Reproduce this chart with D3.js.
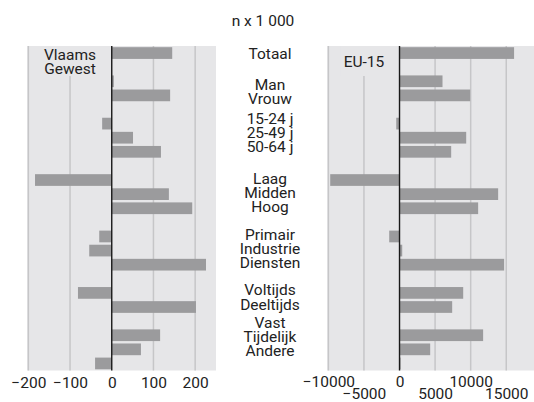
<!DOCTYPE html>
<html>
<head>
<meta charset="utf-8">
<script src="https://cdn.jsdelivr.net/npm/d3@7"></script>
<style>
  html, body { margin: 0; padding: 0; background: #fff; }
  svg { display: block; }
  text { font-family: Roboto, "Noto Sans", sans-serif; fill: #222; }
</style>
</head>
<body>
<svg id="chart" width="534" height="402"></svg>
<script>
// ---- data ----
const title = "n x 1 000";
const groups = [
  ["Totaal"],
  ["Man", "Vrouw"],
  ["15-24 j", "25-49 j", "50-64 j"],
  ["Laag", "Midden", "Hoog"],
  ["Primair", "Industrie", "Diensten"],
  ["Voltijds", "Deeltijds"],
  ["Vast", "Tijdelijk", "Andere"]
];
const categories = groups.flat();
const vlaamsValues = [145, 5, 140, -23, 51, 118, -184, 137, 193, -30, -54, 226, -81, 202, 116, 70, -40];
const euValues = [16100, 6040, 9930, -460, 9370, 7260, -9740, 13860, 11050, -1450, 380, 14700, 8950, 7400, 11750, 4310, 150];
const vlaamsTicks = [-200, -100, 0, 100, 200];
const euTicks = [-10000, -5000, 0, 5000, 10000, 15000];
const panelTitles = [["Vlaams", "Gewest"], ["EU-15"]];

// ---- layout ----
const svg = d3.select("#chart");
const plotTop = 46, plotBottom = 370.5;

// slot domain: categories with a spacer between groups
const slots = [];
groups.forEach((g, gi) => {
  if (gi > 0) slots.push("__gap" + gi);
  g.forEach(c => slots.push(c));
});
const y = d3.scaleBand().domain(slots).range([plotTop, plotBottom]).paddingInner(0.17).paddingOuter(0.085);

const panels = [
  { values: vlaamsValues, ticks: vlaamsTicks, x: d3.scaleLinear().domain([-202.5, 250]).range([27.3, 216]),
    title: panelTitles[0], titleAt: -100, stagger: false },
  { values: euValues, ticks: euTicks, x: d3.scaleLinear().domain([-10150, 18900]).range([327.3, 534]),
    title: panelTitles[1], titleAt: -5000, stagger: true }
];

const bg = "#e6e6e8", grid = "#c6c6c8", barColor = "#9b9b9d";

panels.forEach(p => {
  const g = svg.append("g");
  const [x0, x1] = p.x.range();
  g.append("rect").attr("x", x0).attr("y", plotTop).attr("width", x1 - x0).attr("height", plotBottom - plotTop).attr("fill", bg);
  // gridlines
  g.selectAll("line.grid").data(p.ticks.filter(t => t !== 0)).join("line")
    .attr("class", "grid")
    .attr("x1", d => p.x(d)).attr("x2", d => p.x(d))
    .attr("y1", plotTop).attr("y2", plotBottom)
    .attr("stroke", grid).attr("stroke-width", 1.5);
  // panel title with background box
  const tg = g.append("g");
  const tx = p.x(p.titleAt);
  const lh = 14;
  const nLines = p.title.length;
  const cy = 61;
  const tt = tg.append("text").attr("text-anchor", "middle").attr("font-size", 15.5);
  p.title.forEach((line, i) => {
    tt.append("tspan").attr("x", tx).attr("y", cy + 5.5 + (i - (nLines - 1) / 2) * lh).text(line);
  });
  const bb = tt.node().getBBox();
  tg.insert("rect", "text").attr("x", bb.x - 3).attr("y", plotTop).attr("width", bb.width + 6)
    .attr("height", 30).attr("fill", bg);
  // bars
  g.selectAll("rect.bar").data(categories.map((c, i) => ({ c, v: p.values[i] }))).join("rect")
    .attr("class", "bar")
    .attr("x", d => p.x(Math.min(0, d.v)))
    .attr("width", d => Math.abs(p.x(d.v) - p.x(0)))
    .attr("y", d => y(d.c)).attr("height", y.bandwidth())
    .attr("fill", barColor);
  // zero line
  g.append("line").attr("x1", p.x(0)).attr("x2", p.x(0)).attr("y1", plotTop).attr("y2", plotBottom)
    .attr("stroke", "#1a1a1a").attr("stroke-width", 1.4);
  // tick labels
  const axis = d3.axisBottom(p.x).tickValues(p.ticks).tickSize(0).tickPadding(0).tickFormat(d3.format("d"));
  const ag = g.append("g").attr("transform", `translate(0,${plotBottom})`).call(axis);
  ag.select(".domain").remove();
  ag.selectAll("text").attr("font-size", 15.5).attr("fill", "#222")
    .attr("font-family", "Roboto, 'Noto Sans', sans-serif")
    .attr("dy", null)
    .attr("y", (d, i) => p.stagger ? (i % 2 === 0 ? 16 : 28) : 17);
});

// category labels (group blocks, slightly nudged as in the original layout)
const groupNudge = [5.6, 9, 0.2, 4, 3.7, 2.5, -7];
const labelX = 270;
groups.forEach((grp, gi) => {
  grp.forEach(c => {
    svg.append("text").attr("x", labelX).attr("y", y(c) + y.bandwidth() / 2 + groupNudge[gi])
      .attr("text-anchor", "middle").attr("font-size", 15.5).text(c);
  });
});

// title
svg.append("text").attr("x", 263).attr("y", 25.5).attr("text-anchor", "middle").attr("font-size", 15.5).text(title);
</script>
</body>
</html>
